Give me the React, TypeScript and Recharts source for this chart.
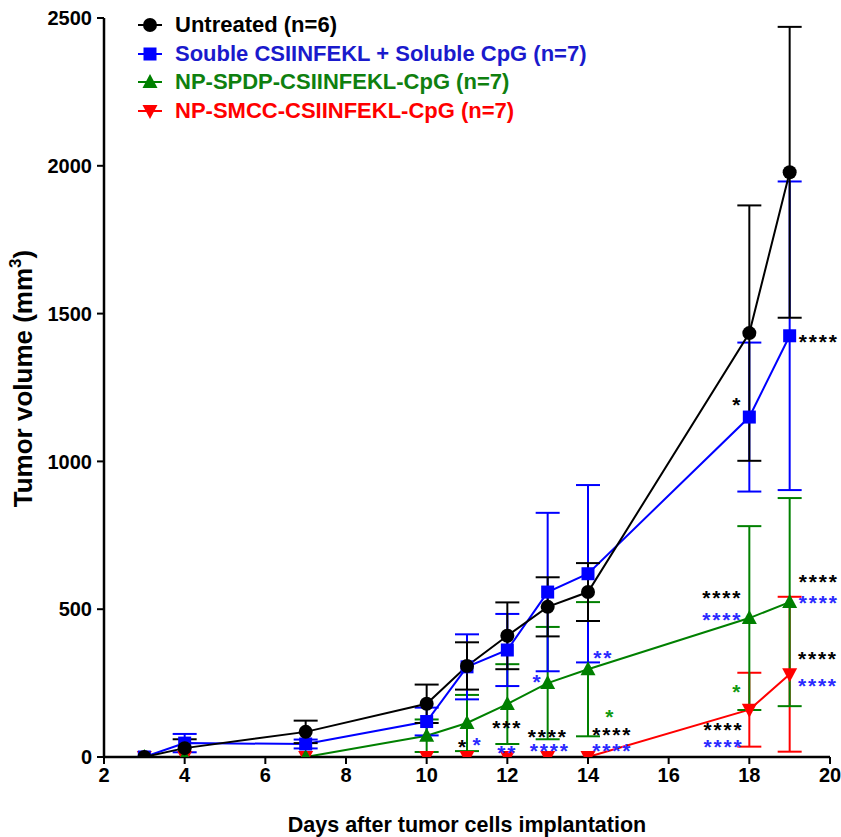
import React from 'react';
import { LineChart, Line, XAxis, YAxis, ErrorBar, ReferenceDot } from 'recharts';

const days = [3, 4, 7, 10, 11, 12, 13, 14, 18, 19];

const untreated = [0, 30, 85, 180, 308, 410, 508, 558, 1434, 1978];
const untreatedSd = [0, 30, 38, 65, 80, 113, 100, 98, 432, 492];
const soluble = [0, 47, 44, 120, 305, 362, 558, 620, 1150, 1425];
const solubleSd = [0, 31, 15, 47, 110, 122, 268, 300, 252, 522];
const spdp = [0, 0, 0, 72, 115, 179, 250, 297, 470, 524];
const spdpSd = [0, 0, 0, 55, 95, 135, 190, 227, 311, 352];
const smcc = [0, 0, 0, 0, 0, 0, 0, 0, 160, 280];
const smccSd = [0, 0, 0, 0, 0, 0, 0, 0, 125, 262];

const xTicks = [2, 4, 6, 8, 10, 12, 14, 16, 18, 20];
const yTicks = [0, 500, 1000, 1500, 2000, 2500];

const legendItems = [
  { name: 'Untreated (n=6)', color: '#000000', text: '#000000', marker: 'circle' },
  { name: 'Souble CSIINFEKL + Soluble CpG (n=7)', color: '#0000ff', text: '#1a1acc', marker: 'square' },
  { name: 'NP-SPDP-CSIINFEKL-CpG (n=7)', color: '#008000', text: '#0f800f', marker: 'up' },
  { name: 'NP-SMCC-CSIINFEKL-CpG (n=7)', color: '#ff0000', text: '#ff0000', marker: 'down' },
];

// significance stars: [day, volume, text, color]
const stars: [number, number, string, string][] = [
  [10.9, 51, '*', '#000'],
  [11.26, 57, '*', '#2a2aff'],
  [12.0, 115, '***', '#000'],
  [12.0, 30, '**', '#2a2aff'],
  [12.75, 270, '*', '#2a2aff'],
  [13.0, 85, '****', '#000'],
  [13.05, 37, '****', '#2a2aff'],
  [14.38, 352, '**', '#2a2aff'],
  [14.55, 152, '*', '#119911'],
  [14.6, 91, '****', '#000'],
  [14.6, 37, '****', '#2a2aff'],
  [17.7, 1208, '*', '#000'],
  [19.72, 1421, '****', '#000'],
  [17.33, 555, '****', '#000'],
  [17.33, 480, '****', '#2a2aff'],
  [17.7, 237, '*', '#119911'],
  [17.36, 108, '****', '#000'],
  [17.36, 51, '****', '#2a2aff'],
  [19.72, 609, '****', '#000'],
  [19.72, 538, '****', '#2a2aff'],
  [19.7, 348, '****', '#000'],
  [19.7, 257, '****', '#2a2aff'],
];

const nz = (v: number) => (v > 0 ? v : undefined);

const data = days.map((d, i) => ({
  day: d,
  untreated: untreated[i],
  untreatedSd: nz(untreatedSd[i]),
  soluble: soluble[i],
  solubleSd: nz(solubleSd[i]),
  spdp: spdp[i],
  spdpSd: nz(spdpSd[i]),
  smcc: smcc[i],
  smccSd: nz(smccSd[i]),
}));

const FONT = '"Liberation Sans", Arial, sans-serif';

function Marker({ kind, cx, cy, color }: { kind: string; cx: number; cy: number; color: string }) {
  if (cx == null || cy == null) return null;
  if (kind === 'circle') return <circle cx={cx} cy={cy} r={7} fill={color} />;
  if (kind === 'square') return <rect x={cx - 6.5} y={cy - 6.5} width={13} height={13} fill={color} />;
  if (kind === 'up')
    return <polygon points={`${cx},${cy - 8} ${cx - 7.5},${cy + 6} ${cx + 7.5},${cy + 6}`} fill={color} />;
  return <polygon points={`${cx},${cy + 8} ${cx - 7.5},${cy - 6} ${cx + 7.5},${cy - 6}`} fill={color} />;
}

const dotFor = (kind: string, color: string) => (p: any) =>
  <Marker key={`${kind}-${p.index}`} kind={kind} cx={p.cx} cy={p.cy} color={color} />;

function Legend() {
  return (
    <div style={{ position: 'absolute', left: 136, top: 11, fontFamily: FONT, fontWeight: 700, fontSize: 22 }}>
      {legendItems.map(it => (
        <div key={it.name} style={{ display: 'flex', alignItems: 'center', height: 28.5 }}>
          <svg width={30} height={20} style={{ marginRight: 9 }}>
            <line x1={2} y1={10} x2={26} y2={10} stroke={it.color} strokeWidth={2} />
            <Marker kind={it.marker} cx={14} cy={10} color={it.color} />
          </svg>
          <span style={{ color: it.text, whiteSpace: 'nowrap' }}>{it.name}</span>
        </div>
      ))}
    </div>
  );
}

export default function App() {
  const series = [
    { key: 'smcc', sd: 'smccSd', color: '#ff0000', marker: 'down' },
    { key: 'spdp', sd: 'spdpSd', color: '#008000', marker: 'up' },
    { key: 'soluble', sd: 'solubleSd', color: '#0000ff', marker: 'square' },
    { key: 'untreated', sd: 'untreatedSd', color: '#000000', marker: 'circle' },
  ];

  return (
    <div style={{ position: 'absolute', left: 0, top: 0, width: 841, height: 837, background: '#fff', fontFamily: FONT }}>
      <LineChart width={841} height={837} data={data} margin={{ top: 18, right: 11, bottom: 0, left: 0 }}>
        <XAxis
          dataKey="day"
          type="number"
          domain={[2, 20]}
          ticks={xTicks}
          allowDataOverflow
          height={80}
          tickSize={7}
          tickMargin={4}
          axisLine={{ stroke: '#000', strokeWidth: 2.5 }}
          tickLine={{ stroke: '#000', strokeWidth: 2 }}
          tick={{ fill: '#000', fontSize: 20, fontWeight: 700, fontFamily: FONT }}
          label={{
            content: (p: any) => {
              const vb = p.viewBox;
              return (
                <text x={vb.x + vb.width / 2} y={832} textAnchor="middle" fontSize={21.5} fontWeight={700} fontFamily={FONT} fill="#000">
                  Days after tumor cells implantation
                </text>
              );
            },
          }}
        />
        <YAxis
          type="number"
          domain={[0, 2500]}
          ticks={yTicks}
          allowDataOverflow
          width={104}
          tickSize={7}
          tickMargin={5}
          axisLine={{ stroke: '#000', strokeWidth: 2.5 }}
          tickLine={{ stroke: '#000', strokeWidth: 2 }}
          tick={{ fill: '#000', fontSize: 20, fontWeight: 700, fontFamily: FONT }}
          label={{
            content: (p: any) => {
              const vb = p.viewBox;
              const cy = vb.y + vb.height / 2 - 9;
              return (
                <text
                  x={32}
                  y={cy}
                  transform={`rotate(-90, 32, ${cy})`}
                  textAnchor="middle"
                  fontSize={26}
                  fontWeight={700}
                  fontFamily={FONT}
                  fill="#000"
                >
                  Tumor volume (mm<tspan fontSize={17} dy={-11}>3</tspan>
                  <tspan dy={11}>)</tspan>
                </text>
              );
            },
          }}
        />
        {series.map(s => (
          <Line
            key={s.key}
            dataKey={s.key}
            stroke={s.color}
            strokeWidth={2}
            type="linear"
            isAnimationActive={false}
            dot={dotFor(s.marker, s.color)}
            activeDot={false}
          >
            <ErrorBar dataKey={s.sd} direction="y" width={12} stroke={s.color} strokeWidth={2} isAnimationActive={false} />
          </Line>
        ))}
        {stars.map(([d, v, t, c], i) => (
          <ReferenceDot
            key={`star-${i}`}
            x={d}
            y={v}
            r={0}
            ifOverflow="visible"
            shape={(p: any) => (
              <text x={p.cx} y={p.cy + 12} textAnchor="middle" fontSize={21} fontWeight={700} letterSpacing={1.8} fontFamily={FONT} fill={c}>
                {t}
              </text>
            )}
          />
        ))}
      </LineChart>
      <Legend />
    </div>
  );
}
